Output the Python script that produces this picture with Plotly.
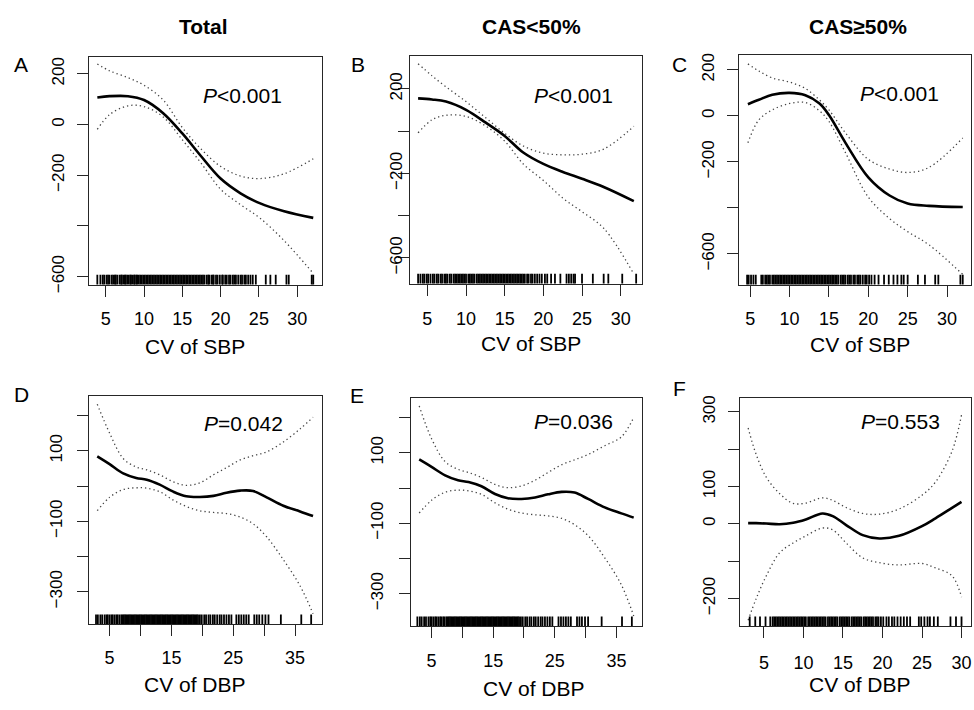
import plotly.graph_objects as go

# page is 974x710; body margin is removed by a post script so figure pixels == page pixels
W, H = 974, 710

# ---------------- data ----------------
# Panel A: Total, CV of SBP
A_x = [3.9, 5.5, 7.9, 10, 12.5, 15, 17.4, 20, 22.6, 25.1, 28.3, 32.1]
A_fit = [107, 112, 112, 97, 45, -35, -123, -213, -271, -310, -342, -368]
A_up = [239, 212, 185, 155, 97, -12, -95, -165, -203, -213, -194, -135]
A_lo = [-19, 39, 74, 71, 30, -60, -150, -255, -316, -368, -458, -587]
A_rug = [3.9, 4.3, 4.6, 4.8, 5.1, 5.3, 5.5, 5.8, 6.0, 6.2, 6.3, 6.5, 6.8, 7.0, 7.1, 7.3, 7.5, 7.6,
         7.8, 8.0, 8.2, 8.3, 8.5, 8.7, 8.8, 9.0, 9.1, 9.3, 9.5, 9.7, 9.9, 10.1, 10.3, 10.5, 10.7,
         10.9, 11.1, 11.3, 11.5, 11.7, 11.9, 12.1, 12.3, 12.5, 12.7, 12.9, 13.1, 13.3, 13.5, 13.7,
         13.9, 14.1, 14.3, 14.5, 14.7, 14.9, 15.1, 15.3, 15.5, 15.7, 15.9, 16.1, 16.3, 16.5, 16.7,
         16.9, 17.1, 17.3, 17.5, 17.7, 17.9, 18.2, 18.4, 18.5, 18.8, 19.0, 19.1, 19.4, 19.6, 19.9,
         20.2, 20.3, 20.6, 20.8, 21.1, 21.3, 21.6, 21.8, 22.0, 22.3, 22.6, 22.8, 23.1, 23.3, 23.6,
         23.9, 24.2, 24.6, 25.9, 26.5, 27.2, 28.6, 28.9, 31.9, 32.1]

# Panel B: CAS<50%, CV of SBP
B_x = [3.8, 5.6, 7.4, 10, 12.6, 15, 17.4, 20, 22.6, 25, 27.8, 31.7]
B_fit = [155, 150, 140, 101, 39, -23, -101, -155, -194, -225, -264, -331]
B_up = [319, 262, 210, 140, 62, -10, -70, -104, -112, -109, -85, 23]
B_lo = [-8, 54, 75, 70, 23, -47, -155, -233, -319, -381, -459, -676]
B_rug = [3.8, 4.1, 4.4, 4.6, 4.9, 5.1, 5.4, 5.7, 5.9, 6.2, 6.4, 6.7, 6.9, 7.2, 7.4, 7.6, 7.9, 8.1,
         8.4, 8.6, 8.8, 9.0, 9.2, 9.4, 9.6, 9.8, 10.0, 10.3, 10.5, 10.7, 10.9, 11.1, 11.4, 11.6,
         11.8, 12.0, 12.2, 12.4, 12.6, 12.8, 13.0, 13.2, 13.4, 13.6, 13.8, 14.0, 14.2, 14.4, 14.6,
         14.8, 15.0, 15.2, 15.4, 15.6, 15.8, 16.0, 16.2, 16.4, 16.6, 16.8, 17.0, 17.2, 17.4, 17.6,
         17.9, 18.1, 18.4, 18.6, 18.9, 19.2, 19.5, 19.8, 20.2, 20.5, 21.0, 21.5, 22.2, 23.0, 23.3,
         23.6, 23.9, 24.1, 25.0, 26.4, 27.8, 28.4, 30.2, 32.0]

# Panel C: CAS>=50%, CV of SBP
C_x = [4.7, 6.1, 7.8, 10, 12, 13.8, 15, 17.1, 20, 22.7, 25, 27.7, 32]
C_fit = [51, 70, 92, 100, 90, 54, 4, -117, -267, -346, -381, -391, -396]
C_up = [226, 195, 165, 147, 119, 69, 26, -74, -189, -231, -246, -224, -96]
C_lo = [-117, -17, 26, 54, 58, 22, -24, -160, -353, -446, -503, -560, -689]
C_rug = [4.6, 4.8, 5.1, 5.4, 5.7, 6.4, 6.6, 6.9, 7.1, 7.3, 7.5, 7.8, 8.0, 8.2, 8.4, 8.6, 8.8, 9.0,
         9.2, 9.4, 9.6, 9.8, 10.0, 10.2, 10.4, 10.6, 10.8, 11.0, 11.2, 11.4, 11.6, 11.8, 12.0, 12.2,
         12.4, 12.6, 12.8, 13.0, 13.2, 13.4, 13.6, 13.8, 14.0, 14.2, 14.4, 14.6, 14.8, 15.0, 15.2,
         15.4, 15.6, 15.8, 16.0, 16.2, 16.5, 16.7, 16.9, 17.1, 17.4, 17.6, 17.8, 18.1, 18.3, 18.6,
         18.8, 19.0, 19.3, 19.6, 19.8, 20.1, 20.4, 20.8, 21.3, 22.0, 22.6, 23.2, 23.7, 24.2, 24.5,
         25.0, 26.3, 27.2, 28.5, 28.9, 31.7, 32.0]

# Panel D: Total, CV of DBP
D_x = [3, 5, 7.2, 9.3, 11, 13.1, 15.3, 17.4, 19.6, 21.8, 23.9, 26.1, 28.2, 30.4, 33.1, 35.8, 37.9]
D_fit = [84, 62, 36, 23, 18, 4, -16, -29, -31, -28, -19, -13, -14, -32, -56, -72, -85]
D_up = [232, 150, 78, 54, 46, 32, 12, 2, 9, 32, 52, 74, 86, 97, 125, 162, 195]
D_lo = [-70, -32, -10, -5, -6, -16, -40, -58, -70, -75, -78, -88, -107, -144, -209, -283, -362]
D_rug = [2.8, 3.1, 3.5, 3.8, 4.2, 4.5, 4.7, 5.0, 5.3, 5.5, 5.8, 6.1, 6.3, 6.6, 6.9, 7.1, 7.3, 7.5,
         7.7, 7.9, 8.1, 8.3, 8.5, 8.7, 8.9, 9.1, 9.3, 9.5, 9.7, 9.9, 10.1, 10.3, 10.5, 10.7, 10.9,
         11.1, 11.3, 11.5, 11.7, 11.9, 12.1, 12.3, 12.5, 12.7, 12.9, 13.1, 13.3, 13.5, 13.7, 13.9,
         14.1, 14.3, 14.5, 14.7, 14.9, 15.1, 15.3, 15.5, 15.7, 15.9, 16.1, 16.3, 16.5, 16.7, 16.9,
         17.1, 17.3, 17.5, 17.7, 17.9, 18.1, 18.3, 18.5, 18.7, 18.9, 19.1, 19.3, 19.6, 19.9, 20.3,
         20.6, 21.0, 21.3, 21.7, 22.0, 22.4, 22.8, 23.1, 23.5, 23.9, 24.3, 24.7, 25.5, 25.9, 26.3,
         26.7, 27.1, 27.5, 28.4, 28.8, 29.2, 29.7, 30.2, 30.7, 32.7, 36.0, 37.6]

# Panel E: CAS<50%, CV of DBP
E_x = [3, 5, 7.2, 9.3, 11, 13.1, 15.3, 17.4, 19.6, 21.8, 23.9, 26.1, 28.2, 30.4, 33.1, 35.8, 37.8]
E_fit = [81, 60, 36, 22, 17, 5, -17, -29, -31, -27, -18, -11, -13, -31, -55, -72, -84]
E_up = [233, 140, 75, 53, 44, 30, 10, 1, 6, 22, 44, 66, 80, 95, 120, 145, 200]
E_lo = [-71, -35, -12, -6, -8, -18, -42, -60, -71, -76, -79, -86, -104, -135, -198, -275, -363]
E_rug = [2.7, 3.1, 3.4, 3.8, 4.1, 4.5, 4.8, 5.0, 5.3, 5.6, 5.8, 6.1, 6.4, 6.6, 6.9, 7.1, 7.4, 7.6,
         7.8, 8.0, 8.2, 8.4, 8.6, 8.8, 9.0, 9.2, 9.4, 9.6, 9.8, 10.0, 10.2, 10.4, 10.6, 10.8, 11.0,
         11.2, 11.4, 11.6, 11.8, 12.0, 12.2, 12.4, 12.6, 12.8, 13.0, 13.2, 13.4, 13.6, 13.8, 14.0,
         14.2, 14.4, 14.6, 14.8, 15.0, 15.2, 15.4, 15.6, 15.8, 16.0, 16.2, 16.4, 16.6, 16.8, 17.0,
         17.2, 17.4, 17.6, 17.8, 18.0, 18.2, 18.4, 18.6, 18.8, 19.0, 19.2, 19.5, 19.8, 20.2, 20.5,
         20.9, 21.2, 21.6, 21.9, 22.3, 22.7, 23.0, 23.4, 23.8, 24.2, 24.6, 25.6, 26.0, 26.4, 26.8,
         27.2, 27.6, 28.6, 29.0, 29.4, 29.9, 30.4, 32.6, 35.9, 37.5]

# Panel F: CAS>=50%, CV of DBP
F_x = [3, 4, 5.3, 7, 8.7, 10.3, 12.4, 13.7, 15.4, 17.5, 19.6, 22.1, 25, 26.7, 28.8, 30]
F_fit = [2, 2, 1, -1, 3, 12, 28, 21, -3, -30, -39, -32, -6, 15, 43, 59]
F_up = [257, 187, 125, 81, 55, 56, 70, 63, 44, 28, 26, 40, 77, 112, 195, 292]
F_lo = [-258, -201, -139, -77, -51, -32, -11, -16, -51, -91, -104, -110, -106, -118, -139, -196]
F_rug = [3.2, 3.9, 4.5, 5.2, 5.8, 6.1, 6.3, 6.5, 6.7, 6.9, 7.1, 7.3, 7.5, 7.7, 7.9, 8.1, 8.3, 8.5,
         8.7, 8.9, 9.1, 9.3, 9.5, 9.7, 9.9, 10.1, 10.3, 10.6, 10.8, 11.0, 11.2, 11.4, 11.6, 11.8,
         12.0, 12.2, 12.4, 12.6, 12.8, 13.1, 13.3, 13.5, 13.7, 13.9, 14.1, 14.3, 14.6, 14.8, 15.0,
         15.2, 15.4, 15.6, 15.8, 16.1, 16.3, 16.5, 16.7, 16.9, 17.1, 17.3, 17.6, 17.8, 18.0, 18.2,
         18.4, 18.6, 18.8, 19.1, 19.3, 19.5, 19.8, 20.1, 20.5, 20.8, 21.2, 21.5, 21.9, 22.3, 22.7,
         23.1, 23.5, 24.6, 24.9, 25.3, 25.7, 26.0, 26.5, 27.0, 28.6, 29.3, 30.0]

COL_TITLES = ["Total", "CAS&lt;50%", "CAS≥50%"]
P_TEXT = ["<i>P</i>&lt;0.001", "<i>P</i>&lt;0.001", "<i>P</i>&lt;0.001",
          "<i>P</i>=0.042", "<i>P</i>=0.036", "<i>P</i>=0.553"]
LETTERS = ["A", "B", "C", "D", "E", "F"]
XLABELS = ["CV of SBP", "CV of SBP", "CV of SBP", "CV of DBP", "CV of DBP", "CV of DBP"]

SBP_TICKS = [5, 10, 15, 20, 25, 30]
SBP_TICKTEXT = ["5", "10", "15", "20", "25", "30"]
DBP_TICKS = [5, 10, 15, 20, 25, 30, 35]
DBP_TICKTEXT = ["5", "", "15", "", "25", "", "35"]
F_TICKS = [5, 10, 15, 20, 25, 30]
F_TICKTEXT = ["5", "10", "15", "20", "25", "30"]

M = "−"
Y_SBP_VALS = [200, 0, -200, -400, -600]
A_YTEXT = ["200", "0", M + "200", "", M + "600"]
B_YTEXT = ["200", "", M + "200", "", M + "600"]
C_YTEXT = ["200", "0", M + "200", "", M + "600"]
Y_DBP_VALS = [200, 100, 0, -100, -200, -300]
DE_YTEXT = ["", "100", "", M + "100", "", M + "300"]
F_YVALS = [300, 200, 100, 0, -100, -200]
F_YTEXT = ["300", "", "100", "0", "", M + "200"]

# ---------------- layout geometry (page pixels) ----------------
panels = [
    dict(x=A_x, fit=A_fit, up=A_up, lo=A_lo, rug=A_rug, bx=(89, 322), by=(56, 287),
         xr=(2.8, 33.2), yr=(-631, 266), xt=SBP_TICKS, xtt=SBP_TICKTEXT, yt=Y_SBP_VALS, ytt=A_YTEXT,
         lp=(21, 63), pp=(243, 95), xl=(195, 350), ysd=6, xsd=7),
    dict(x=B_x, fit=B_fit, up=B_up, lo=B_lo, rug=B_rug, bx=(410, 643), by=(55, 286),
         xr=(2.7, 32.8), yr=(-721, 355), xt=SBP_TICKS, xtt=SBP_TICKTEXT, yt=Y_SBP_VALS, ytt=B_YTEXT,
         lp=(358, 63), pp=(574, 95), xl=(532, 347), ysd=-11, xsd=8),
    dict(x=C_x, fit=C_fit, up=C_up, lo=C_lo, rug=C_rug, bx=(740, 972), by=(54, 287),
         xr=(3.6, 33.05), yr=(-733, 264), xt=SBP_TICKS, xtt=SBP_TICKTEXT, yt=Y_SBP_VALS, ytt=C_YTEXT,
         lp=(680, 63), pp=(900, 93), xl=(861, 348), ysd=6, xsd=7),
    dict(x=D_x, fit=D_fit, up=D_up, lo=D_lo, rug=D_rug, bx=(89, 322), by=(400, 632),
         xr=(1.65, 39.3), yr=(-392, 256), xt=DBP_TICKS, xtt=DBP_TICKTEXT, yt=Y_DBP_VALS, ytt=DE_YTEXT,
         lp=(22, 399), pp=(244, 428), xl=(195, 693), ysd=8, xsd=6),
    dict(x=E_x, fit=E_fit, up=E_up, lo=E_lo, rug=E_rug, bx=(411, 643), by=(402, 634),
         xr=(1.6, 39.2), yr=(-392, 256), xt=DBP_TICKS, xtt=DBP_TICKTEXT, yt=Y_DBP_VALS, ytt=DE_YTEXT,
         lp=(357, 400), pp=(574, 426), xl=(535, 697), ysd=9, xsd=7),
    dict(x=F_x, fit=F_fit, up=F_up, lo=F_lo, rug=F_rug, bx=(741, 972), by=(402, 634),
         xr=(2.0, 31.2), yr=(-274, 338), xt=F_TICKS, xtt=F_TICKTEXT, yt=F_YVALS, ytt=F_YTEXT,
         lp=(680, 393), pp=(901, 426), xl=(861, 693), ysd=6, xsd=9),
]
TITLE_X = [204, 532, 859]
TITLE_Y = 25


def px(v):
    return v / W


def py(v):
    return 1 - v / H


FONT = "Liberation Sans, Arial, sans-serif"
AXC = "#262626"

fig = go.Figure()
annotations = []
layout_axes = {}

for i, p in enumerate(panels):
    n = i + 1
    xa = "x" if n == 1 else f"x{n}"
    ya = "y" if n == 1 else f"y{n}"
    common = dict(xaxis=xa, yaxis=ya, showlegend=False, hoverinfo="skip")
    for band in (p["up"], p["lo"]):
        fig.add_trace(go.Scatter(x=p["x"], y=band, mode="lines",
                                 line=dict(color="#444", width=1.3, dash="1.3px,3px",
                                           shape="spline", smoothing=1.0),
                                 **common))
    fig.add_trace(go.Scatter(x=p["x"], y=p["fit"], mode="lines",
                             line=dict(color="black", width=2.6, shape="spline", smoothing=1.0),
                             **common))
    fig.add_trace(go.Scatter(x=p["rug"], y=[p["yr"][0]] * len(p["rug"]), mode="markers",
                             marker=dict(symbol="line-ns", size=14, color="black",
                                         line=dict(width=1.8, color="black")),
                             cliponaxis=True, **common))

    x0, x1 = p["bx"]
    y0, y1 = p["by"]
    axkey = "xaxis" if n == 1 else f"xaxis{n}"
    aykey = "yaxis" if n == 1 else f"yaxis{n}"
    layout_axes[axkey] = dict(
        domain=[px(x0), px(x1)], anchor=ya, range=list(p["xr"]),
        tickvals=p["xt"], ticktext=p["xtt"], ticks="outside", ticklen=11, tickwidth=1,
        tickcolor=AXC, showline=True, mirror=True, linecolor=AXC, linewidth=1,
        showgrid=False, zeroline=False, tickfont=dict(family=FONT, size=18, color="black"),
        ticklabelstandoff=p["xsd"],
    )
    layout_axes[aykey] = dict(
        domain=[py(y1), py(y0)], anchor=xa, range=list(p["yr"]),
        tickvals=p["yt"], ticktext=p["ytt"], ticks="outside", ticklen=11, tickwidth=1,
        tickcolor=AXC, showline=True, mirror=True, linecolor=AXC, linewidth=1,
        showgrid=False, zeroline=False, tickangle=-90,
        tickfont=dict(family=FONT, size=17, color="black"), ticklabelstandoff=p["ysd"],
    )
    annotations.append(dict(text=LETTERS[i], x=px(p["lp"][0]), y=py(p["lp"][1]),
                            xref="paper", yref="paper", showarrow=False,
                            xanchor="center", yanchor="middle",
                            font=dict(family=FONT, size=21, color="black")))
    annotations.append(dict(text=P_TEXT[i], x=px(p["pp"][0]), y=py(p["pp"][1]),
                            xref="paper", yref="paper", showarrow=False,
                            xanchor="center", yanchor="middle",
                            font=dict(family=FONT, size=21, color="black")))
    annotations.append(dict(text=XLABELS[i], x=px(p["xl"][0]), y=py(p["xl"][1]),
                            xref="paper", yref="paper", showarrow=False,
                            xanchor="center", yanchor="middle",
                            font=dict(family=FONT, size=21, color="black")))

for j, t in enumerate(COL_TITLES):
    annotations.append(dict(text=f"<b>{t}</b>", x=px(TITLE_X[j]), y=py(TITLE_Y),
                            xref="paper", yref="paper", showarrow=False,
                            xanchor="center", yanchor="middle",
                            font=dict(family=FONT, size=21, color="black")))

fig.update_layout(
    width=W, height=H, margin=dict(l=0, r=0, t=0, b=0),
    paper_bgcolor="white", plot_bgcolor="white",
    annotations=annotations, **layout_axes,
)

fig.write_html(
    "out.html",
    config={"displayModeBar": False},
    post_script="document.body.style.margin='0px';document.body.style.overflow='hidden';",
)
